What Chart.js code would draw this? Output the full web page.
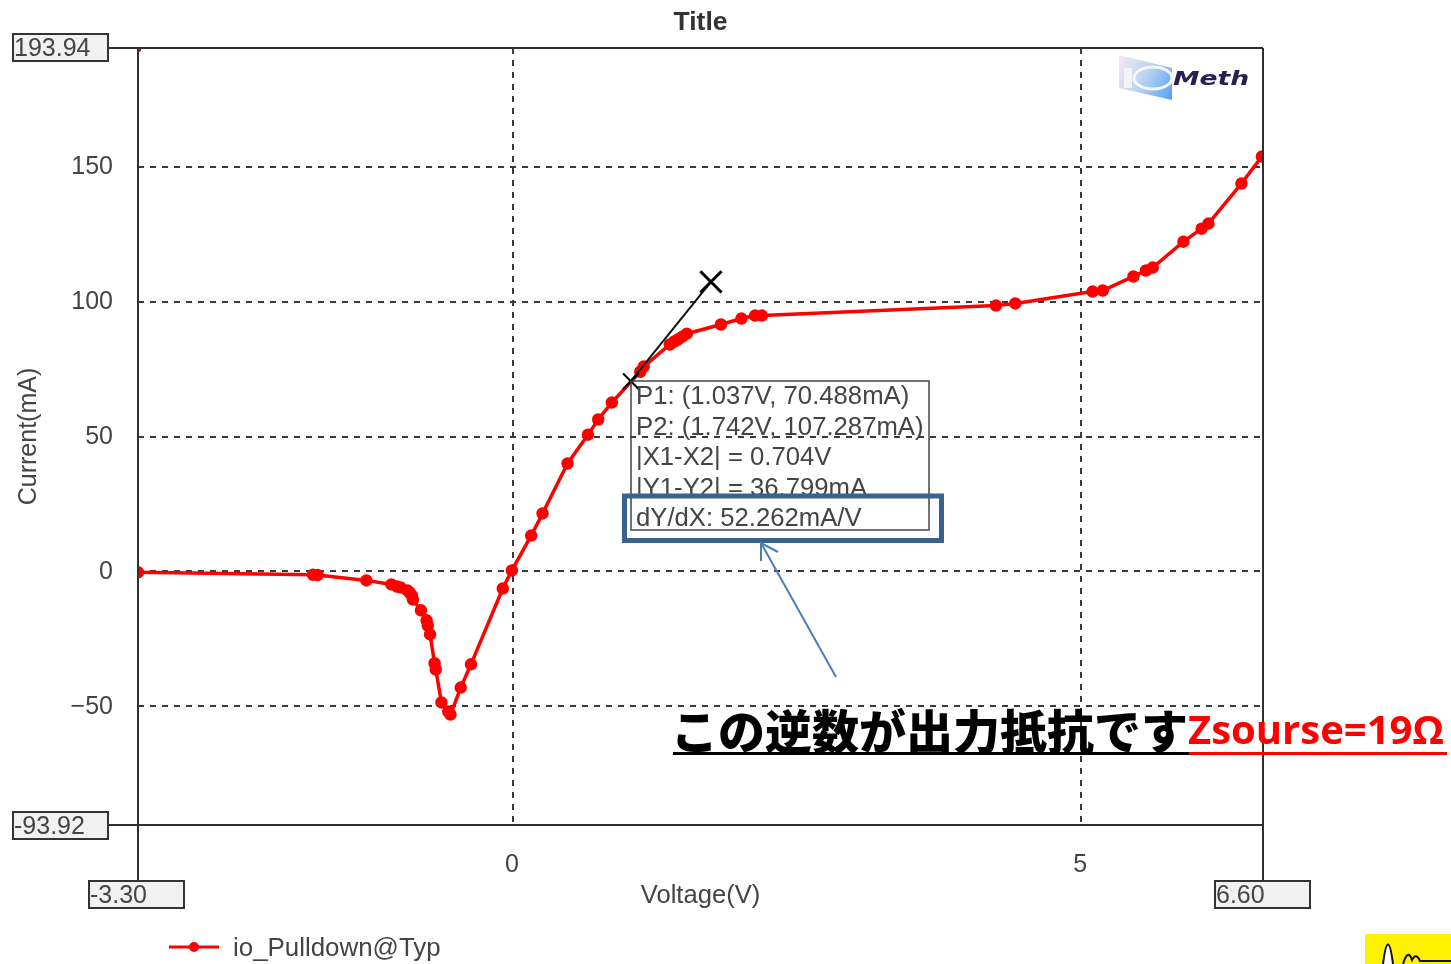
<!DOCTYPE html>
<html>
<head>
<meta charset="utf-8">
<title>io_Pulldown</title>
<script src="https://cdn.jsdelivr.net/npm/chart.js@4/dist/chart.umd.min.js"></script>
<style>
  html, body { margin: 0; padding: 0; background: #fff; overflow: hidden; }
  canvas { display: block; }
</style>
</head>
<body>
<canvas id="ivChart" width="1451" height="964"></canvas>
<script>
// I-V curve
const voltage = [-3.30, -1.76, -1.72, -1.29, -1.07, -1.02, -0.99, -0.93, -0.91, -0.89, -0.88, -0.81, -0.76, -0.75, -0.73, -0.69, -0.68, -0.63, -0.57, -0.55, -0.46, -0.37, -0.09, -0.01, 0.16, 0.26, 0.48, 0.66, 0.75, 0.87, 1.12, 1.15, 1.38, 1.42, 1.45, 1.49, 1.53, 1.83, 2.01, 2.13, 2.19, 4.25, 4.42, 5.10, 5.19, 5.46, 5.57, 5.63, 5.90, 6.06, 6.12, 6.41, 6.59];
const current = [-0.3, -1.2, -1.3, -3.3, -4.8, -5.6, -5.9, -7.0, -7.8, -8.9, -10.4, -14.4, -18.1, -20.0, -23.3, -34.0, -36.3, -48.5, -51.9, -53.0, -43.0, -34.4, -6.3, 0.4, 13.3, 21.5, 40.0, 50.7, 56.3, 62.6, 74.0, 75.9, 84.1, 85.2, 85.9, 87.0, 88.1, 91.5, 93.7, 94.8, 94.8, 98.5, 99.3, 103.7, 104.1, 109.3, 111.5, 112.6, 122.2, 127.0, 128.9, 143.7, 153.7];

// measurement cursors P1 and P2
const cursorV = [1.037, 1.742];
const cursorI = [70.488, 107.287];

// stray marker in the top left corner
const strayV = [-3.29];
const strayI = [193.2];

const xTicks = [0, 5];
const yTicks = [-50, 0, 50, 100, 150];
const xRange = [-3.30, 6.60];
const yRange = [-93.92, 193.94];
const xRangeLabels = ['-3.30', '6.60'];
const yRangeLabels = ['-93.92', '193.94'];

const infoLines = ['P1: (1.037V, 70.488mA)', 'P2: (1.742V, 107.287mA)', '|X1-X2| = 0.704V', '|Y1-Y2| = 36.799mA', 'dY/dX: 52.262mA/V'];

const FONT = '"Liberation Sans", Arial, sans-serif';
const INK = '#444';

function rangeBox(ctx, x, y, text) {
    ctx.fillStyle = '#f1f1f1';
    ctx.fillRect(x, y, 95, 27);
    ctx.strokeStyle = '#333';
    ctx.lineWidth = 2;
    ctx.strokeRect(x, y, 95, 27);
    ctx.save();
    ctx.beginPath();
    ctx.rect(x + 1, y + 1, 93, 25);
    ctx.clip();
    ctx.fillStyle = INK;
    ctx.font = '25px ' + FONT;
    ctx.textAlign = 'left';
    ctx.textBaseline = 'middle';
    ctx.fillText(text, x + 1, y + 15);
    ctx.restore();
}

function drawLogo(ctx) {
    const grad = ctx.createLinearGradient(1120, 60, 1175, 90);
    grad.addColorStop(0, '#f1e6f6');
    grad.addColorStop(0.5, '#b4d3f2');
    grad.addColorStop(1, '#5aa2f5');
    ctx.fillStyle = grad;
    ctx.beginPath();
    ctx.moveTo(1119, 55);
    ctx.lineTo(1172, 68);
    ctx.lineTo(1172, 100);
    ctx.lineTo(1119, 88);
    ctx.closePath();
    ctx.fill();
    ctx.strokeStyle = '#f6f6f6';
    ctx.lineWidth = 3;
    ctx.beginPath();
    ctx.ellipse(1153, 78, 19, 11, 0, 0, Math.PI * 2);
    ctx.stroke();
    ctx.fillStyle = '#f4f4f4';
    ctx.fillRect(1124, 68, 8, 20);
    ctx.fillStyle = '#2a2050';
    ctx.font = 'italic bold 19px "DejaVu Sans", sans-serif';
    ctx.textAlign = 'left';
    ctx.textBaseline = 'middle';
    ctx.save();
    ctx.translate(1173, 80);
    ctx.scale(1.4, 1);
    ctx.fillText('Meth', 0, 0);
    ctx.restore();
}

// frame, range boxes, legend, notes: everything the scales do not draw
const decorations = {
    id: 'decorations',
    afterDraw(chart) {
        const ctx = chart.ctx;
        const x = chart.scales.x;
        const y = chart.scales.y;
        const left = x.getPixelForValue(xRange[0]);
        const right = x.getPixelForValue(xRange[1]);
        const top = y.getPixelForValue(yRange[1]);
        const bottom = y.getPixelForValue(yRange[0]);

        ctx.save();
        ctx.strokeStyle = '#2f2f2f';
        ctx.lineWidth = 2;
        ctx.beginPath();
        ctx.moveTo(108, top); ctx.lineTo(right, top);
        ctx.moveTo(108, bottom); ctx.lineTo(right, bottom);
        ctx.moveTo(left, top); ctx.lineTo(left, 880);
        ctx.moveTo(right, top); ctx.lineTo(right, 880);
        ctx.stroke();

        rangeBox(ctx, 13, 34, yRangeLabels[1]);
        rangeBox(ctx, 13, 812, yRangeLabels[0]);
        rangeBox(ctx, 89, 881, xRangeLabels[0]);
        rangeBox(ctx, 1215, 881, xRangeLabels[1]);

        drawLogo(ctx);

        // legend
        const curve = chart.data.datasets[1];
        ctx.strokeStyle = curve.borderColor;
        ctx.lineWidth = 3;
        ctx.beginPath();
        ctx.moveTo(169, 947); ctx.lineTo(219, 947);
        ctx.stroke();
        ctx.fillStyle = curve.borderColor;
        ctx.beginPath();
        ctx.arc(194, 947, 5, 0, Math.PI * 2);
        ctx.fill();
        ctx.fillStyle = INK;
        ctx.font = '25.9px ' + FONT;
        ctx.textAlign = 'left';
        ctx.textBaseline = 'middle';
        ctx.fillText(curve.label, 233, 949);

        // measurement box
        ctx.strokeStyle = '#444';
        ctx.lineWidth = 1.5;
        ctx.strokeRect(631, 381, 298, 149);
        ctx.fillStyle = INK;
        ctx.font = '25.7px ' + FONT;
        infoLines.forEach((line, i) => {
            ctx.fillText(line, 636, 397 + i * 30.5);
        });

        // the Y1-Y2 line is cut off by the callout
        ctx.fillStyle = '#fff';
        ctx.fillRect(632, 497, 296, 4);
        ctx.strokeStyle = '#3a6291';
        ctx.lineWidth = 5;
        ctx.strokeRect(624.5, 496, 317, 44.5);

        // arrow
        ctx.strokeStyle = '#4a7ebb';
        ctx.lineWidth = 2;
        ctx.beginPath();
        ctx.moveTo(836, 677); ctx.lineTo(761, 543);
        ctx.moveTo(761, 561); ctx.lineTo(761, 543); ctx.lineTo(778, 552);
        ctx.stroke();

        // note
        ctx.fillStyle = '#000';
        ctx.font = '900 47px "Noto Sans CJK JP", sans-serif';
        ctx.fillText('この逆数が出力抵抗です', 671, 731, 518);
        ctx.fillRect(673, 752, 516, 3);
        ctx.fillStyle = '#ff0000';
        ctx.font = 'bold 40px "Open Sans", sans-serif';
        ctx.fillText('Zsourse=19Ω', 1188, 733, 259);
        ctx.fillRect(1189, 752, 258, 3);

        // yellow corner tag
        ctx.fillStyle = '#fff200';
        ctx.fillRect(1365, 934, 86, 30);
        ctx.fillStyle = '#fff';
        ctx.strokeStyle = '#111';
        ctx.lineWidth = 2;
        ctx.beginPath();
        ctx.moveTo(1383, 964);
        ctx.quadraticCurveTo(1388, 925, 1393, 964);
        ctx.fill();
        ctx.stroke();
        ctx.beginPath();
        ctx.moveTo(1403, 964);
        ctx.quadraticCurveTo(1408, 948, 1412, 960);
        ctx.quadraticCurveTo(1416, 952, 1420, 961);
        ctx.lineTo(1451, 961);
        ctx.stroke();
        ctx.restore();
    }
};

new Chart(document.getElementById('ivChart').getContext('2d'), {
    type: 'line',
    data: {
        datasets: [{
            label: 'dY/dX',
            data: cursorV.map((v, i) => ({ x: v, y: cursorI[i] })),
            borderColor: '#111',
            borderWidth: 2,
            pointStyle: 'crossRot',
            pointRadius: [11, 15],
            pointBorderWidth: [2, 3],
            pointBorderColor: '#000',
            tension: 0
        }, {
            label: 'io_Pulldown@Typ',
            data: voltage.map((v, i) => ({ x: v, y: current[i] })),
            borderColor: '#ff0000',
            borderWidth: 3.5,
            pointBackgroundColor: '#ff0000',
            pointBorderColor: '#ff0000',
            pointRadius: 4.5,
            tension: 0
        }, {
            label: 'stray',
            data: strayV.map((v, i) => ({ x: v, y: strayI[i] })),
            showLine: false,
            pointBackgroundColor: '#ff0000',
            pointBorderColor: '#ff0000',
            pointRadius: 1.5
        }]
    },
    options: {
        responsive: false,
        animation: false,
        events: [],
        layout: { padding: { top: 0, right: 188, bottom: 0, left: 0 } },
        plugins: {
            legend: { display: false },
            tooltip: { enabled: false },
            title: {
                display: true,
                text: 'Title',
                fullSize: false,
                color: '#333',
                font: { family: FONT, size: 26.5, weight: 'bold', lineHeight: 1.2 },
                padding: { top: 7, bottom: 9.2 }
            }
        },
        scales: {
            x: {
                type: 'linear',
                min: xRange[0],
                max: xRange[1],
                afterBuildTicks: axis => { axis.ticks = xTicks.map(v => ({ value: v })); },
                afterFit: axis => { axis.height = 139; },
                grid: { color: '#3a3a3a', lineWidth: 2, drawTicks: false },
                border: { display: false, dash: [6, 6] },
                ticks: {
                    color: INK,
                    maxRotation: 0,
                    autoSkip: false,
                    padding: 25,
                    labelOffset: -1,
                    font: { family: FONT, size: 25 }
                },
                title: {
                    display: true,
                    text: 'Voltage(V)',
                    color: INK,
                    font: { family: FONT, size: 25.6 },
                    padding: { top: 0, bottom: 53 }
                }
            },
            y: {
                min: yRange[0],
                max: yRange[1],
                afterBuildTicks: axis => { axis.ticks = yTicks.map(v => ({ value: v })); },
                afterFit: axis => { axis.width = 138; },
                grid: { color: '#3a3a3a', lineWidth: 2, drawTicks: false },
                border: { display: false, dash: [6, 6] },
                ticks: {
                    color: INK,
                    autoSkip: false,
                    padding: 25,
                    labelOffset: 1,
                    font: { family: FONT, size: 25 },
                    callback: v => (v < 0 ? '\u2212' + Math.abs(v) : v)
                },
                title: {
                    display: true,
                    text: 'Current(mA)',
                    color: INK,
                    font: { family: FONT, size: 25 },
                    padding: { top: 14, bottom: 0 }
                }
            }
        }
    },
    plugins: [decorations]
});
</script>
</body>
</html>
